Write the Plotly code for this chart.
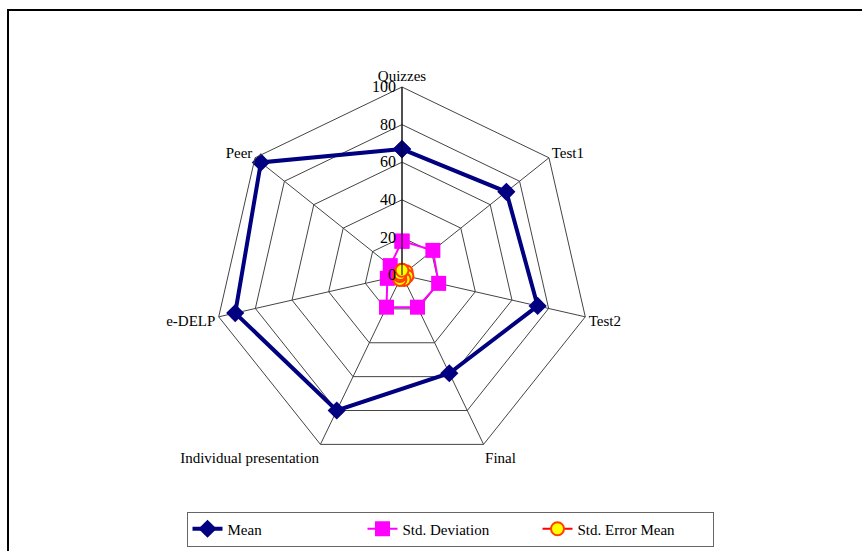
import plotly.graph_objects as go

categories = ["Quizzes", "Test1", "Test2", "Final", "Individual presentation", "e-DELP", "Peer"]
mean_vals = [67, 71, 74, 58, 80, 91, 96]
std_dev_vals = [18, 21, 20, 19, 19, 8, 8]
std_err_vals = [2.5, 2.8, 2.7, 2.6, 2.6, 1.2, 1.2]
radial_ticks = [0, 20, 40, 60, 80, 100]

def closed(v):
    return list(v) + [v[0]]

FONT = "Liberation Serif"

fig = go.Figure()
fig.add_trace(go.Scatterpolar(
    r=closed(mean_vals), theta=closed(categories), name="Mean",
    mode="lines+markers",
    line=dict(color="#000080", width=4),
    marker=dict(symbol="diamond", size=14, color="#000080"),
))
fig.add_trace(go.Scatterpolar(
    r=closed(std_dev_vals), theta=closed(categories), name="Std. Deviation",
    mode="lines+markers",
    line=dict(color="#FF00FF", width=2),
    marker=dict(symbol="square", size=15, color="#FF00FF"),
))
fig.add_trace(go.Scatterpolar(
    r=closed(std_err_vals), theta=closed(categories), name="Std. Error Mean",
    mode="lines+markers",
    line=dict(color="#FF0000", width=2),
    marker=dict(symbol="circle", size=13, color="#FFFF00",
                line=dict(color="#FF4000", width=2)),
))

R = 188
cx, cy = 402, 551 - 275
fig.update_layout(
    width=862, height=551,
    margin=dict(l=0, r=0, t=0, b=0),
    paper_bgcolor="white",
    font=dict(family=FONT, size=14, color="black"),
    polar=dict(
        domain=dict(x=[(cx - R) / 862, (cx + R) / 862], y=[(cy - R) / 551, (cy + R) / 551]),
        bgcolor="white",
        gridshape="linear",
        radialaxis=dict(
            range=[0, 100], tickvals=radial_ticks, angle=90, tickangle=90,
            side="counterclockwise",
            showline=True, linecolor="black", linewidth=1,
            gridcolor="#444444", gridwidth=1, ticks="",
            tickfont=dict(family=FONT, size=16, color="black"),
        ),
        angularaxis=dict(
            rotation=90, direction="clockwise",
            showline=True, linecolor="#444444", linewidth=1,
            gridcolor="#444444", gridwidth=1, ticks="",
            tickfont=dict(family=FONT, size=15, color="black"),
        ),
    ),
    legend=dict(
        orientation="h", x=450 / 862, xanchor="center",
        y=1 - 529 / 551, yanchor="middle",
        bordercolor="#666666", borderwidth=1,
        font=dict(family=FONT, size=15, color="black"),
        entrywidth=130,
    ),
    shapes=[dict(type="rect", xref="paper", yref="paper",
                 x0=8 / 862, x1=1.02, y0=-0.02, y1=1 - 10 / 551,
                 line=dict(color="black", width=2))],
)

fig.write_html("out.html")
